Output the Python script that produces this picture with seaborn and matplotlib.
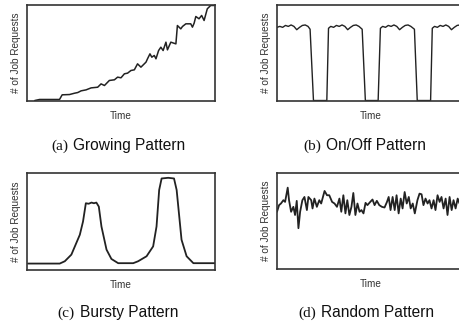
import pandas as pd
import matplotlib.pyplot as plt
import seaborn as sns

# (a) growing pattern: time vs job requests (arbitrary units, 0-100)
grow_t = [4.1, 6.7, 17.3, 18.7, 22.6, 25.3, 27.0, 28.8, 31.4, 34.1, 37.6, 39.4, 41.2,
          43.8, 46.5, 48.2, 50.0, 51.8, 53.5, 55.3, 57.1, 58.8, 60.6, 63.3, 64.1, 65.4,
          66.4, 67.7, 68.6, 70.0, 71.2, 72.4, 73.9, 74.7, 76.5, 79.2, 80.0, 81.8, 82.7,
          84.5, 87.1, 88.0, 88.9, 89.8, 91.5, 92.9, 94.2, 95.9, 97.7, 99.5]
grow_v = [0, 1.1, 1.1, 6.0, 6.3, 7.7, 8.4, 10.2, 11.2, 13.3, 14.0, 17.5, 15.8,
          21.1, 21.8, 24.6, 23.9, 28.1, 28.8, 31.6, 32.3, 38.6, 35.1, 40.4, 43.9, 49.1,
          45.6, 47.4, 43.9, 52.6, 56.1, 52.6, 61.4, 53.3, 61.4, 59.6, 78.9, 75.4, 77.9,
          80.7, 80.7, 77.2, 81.4, 88.4, 86.0, 89.5, 84.2, 96.5, 100, 100]

# (b) on/off pattern
onoff_t = [0, 1.5, 3.0, 4.5, 6.0, 7.5, 9.0, 10.5, 12.0, 13.5, 15.0, 16.5, 17.6, 19.4,
           26.5, 27.4, 28.6, 30.1, 31.6, 33.1, 34.6, 36.1, 37.6, 39.1, 40.6, 42.1, 43.6, 45.3, 47.0,
           53.8, 55.0, 56.2, 57.7, 59.2, 60.7, 62.2, 63.7, 65.2, 66.7, 68.2, 69.7, 71.2, 73.1, 74.6,
           81.7, 82.6, 83.8, 85.3, 86.8, 88.3, 89.8, 91.3, 92.8, 94.3, 95.8, 97.3, 98.8, 100]
onoff_v = [77, 78, 77, 79, 78, 79.5, 78, 74.5, 77, 79, 79.5, 78, 75, 0,
           0, 76, 78, 77, 79, 78, 79.5, 78, 74.5, 77, 79, 79.5, 78, 75, 0,
           0, 76, 78, 77, 79, 78, 79.5, 78, 74.5, 77, 79, 79.5, 78, 75, 0,
           0, 76, 78, 77, 79, 78, 79.5, 78, 74.5, 77, 79, 79.5, 78, 77]

# (c) bursty pattern
burst_t = [0.5, 17.4, 20.1, 23.6, 28.1, 29.8, 31.3, 32.8, 34.3, 35.6, 36.9, 38.2, 39.6,
           42.3, 44.9, 48.5, 56.5, 59.1, 63.6, 67.1, 68.9, 70.3, 71.6, 75.1, 78.2, 79.6,
           82.2, 84.9, 88.5, 100]
burst_v = [6.2, 6.2, 8.6, 15.5, 36.2, 50.0, 69.0, 68.5, 69.7, 69.0, 69.7, 65.5, 44.8,
           20.7, 11.0, 6.6, 6.6, 8.6, 13.8, 24.1, 44.8, 82.8, 94.8, 95.5, 94.8, 82.8,
           31.0, 13.8, 6.6, 6.6]

# (d) random pattern
rand_t = [0, 1.1, 2.1, 3.4, 4.3, 5.7, 6.4, 7.5, 8.7, 9.6, 10.5, 11.4, 12.3, 13.5, 14.6,
          15.9, 16.7, 18.2, 18.9, 19.9, 21.2, 22.5, 23.5, 25.3, 26.6, 27.8, 29.3, 30.6,
          31.9, 33.2, 34.2, 35.3, 36.4, 37.4, 38.5, 39.6, 40.6, 41.7, 42.8, 43.9, 44.9,
          46.0, 47.1, 48.1, 49.6, 50.8, 51.9, 53.1, 54.4, 55.8, 57.2, 58.5, 59.4, 60.4,
          61.5, 62.6, 63.6, 64.7, 65.8, 66.8, 67.9, 69.0, 70.1, 71.1, 72.2, 73.3, 74.7,
          75.8, 76.9, 77.9, 79.0, 80.1, 81.1, 82.2, 83.3, 84.3, 85.4, 86.5, 87.5, 88.6,
          89.7, 90.7, 91.8, 92.9, 93.9, 95.0, 96.1, 97.1, 98.5, 100]
rand_v = [59.7, 66.7, 68.4, 71.9, 70.1, 85.1, 71.9, 59.7, 64.9, 56.3, 71.2, 42.4, 59.7,
          71.9, 75.3, 61.5, 75.3, 71.9, 63.2, 73.6, 64.9, 71.9, 68.4, 81.6, 77.1, 77.1,
          70.1, 68.4, 64.9, 73.6, 59.7, 77.1, 58.0, 71.9, 56.3, 64.9, 79.5, 56.3, 68.4,
          59.7, 61.5, 58.0, 69.1, 66.7, 70.1, 72.6, 66.7, 71.2, 66.7, 64.9, 64.2, 70.1,
          75.3, 61.5, 75.3, 61.5, 77.1, 58.0, 73.6, 63.2, 80.5, 68.4, 75.3, 63.2, 68.4,
          58.0, 71.9, 78.8, 78.1, 66.7, 73.6, 68.4, 71.9, 63.2, 71.9, 61.5, 77.1, 70.1,
          75.3, 63.2, 73.6, 56.3, 75.3, 61.5, 71.9, 63.2, 73.6, 68.4, 72.0, 66.0]

tags = ["(a)", "(b)", "(c)", "(d)"]
titles = ["Growing Pattern", "On/Off Pattern", "Bursty Pattern", "Random Pattern"]

sns.set_style("white")
plt.rcParams['font.family'] = ['Liberation Sans', 'DejaVu Sans']

fig = plt.figure(figsize=(4.6, 3.26), dpi=100)
W, H = 460.0, 326.0

def box(l, t, r, b):
    return [l / W, 1 - b / H, (r - l) / W, (b - t) / H]

axes = [fig.add_axes(box(27, 5, 215, 101)),
        fig.add_axes(box(277, 5, 465, 101)),
        fig.add_axes(box(27, 173, 215, 270)),
        fig.add_axes(box(277, 173, 465, 269))]

series = [(grow_t, grow_v, 1.1), (onoff_t, onoff_v, 1.0),
          (burst_t, burst_v, 1.3), (rand_t, rand_v, 1.3)]

for ax, (t, v, lw) in zip(axes, series):
    df = pd.DataFrame({"Time": t, "Requests": v})
    sns.lineplot(data=df, x="Time", y="Requests", ax=ax, color="#222222",
                 linewidth=lw, sort=False)
    ax.set_xlim(0, 100)
    ax.set_ylim(-0.5, 100.5)
    ax.set_xticks([])
    ax.set_yticks([])
    ax.set_xlabel("Time", fontsize=7.2, color="#333333", labelpad=7)
    ax.set_ylabel("# of Job Requests", fontsize=7.2, color="#333333", labelpad=4.5)
    for s in ax.spines.values():
        s.set_color("#333333")
        s.set_linewidth(1.2)

# captions: serif tag + sans title
caps = [(70, 150), (323, 150), (77, 317), (318, 317)]
for (x, y), tag, title in zip(caps, tags, titles):
    fig.text((x - 2) / W, 1 - y / H, tag, ha="right", va="baseline",
             fontsize=11, family="Liberation Serif", color="#111111")
    fig.text((x + 3) / W, 1 - y / H, title, ha="left", va="baseline",
             fontsize=11.2, color="#111111")

fig.savefig("out.png", dpi=100)
